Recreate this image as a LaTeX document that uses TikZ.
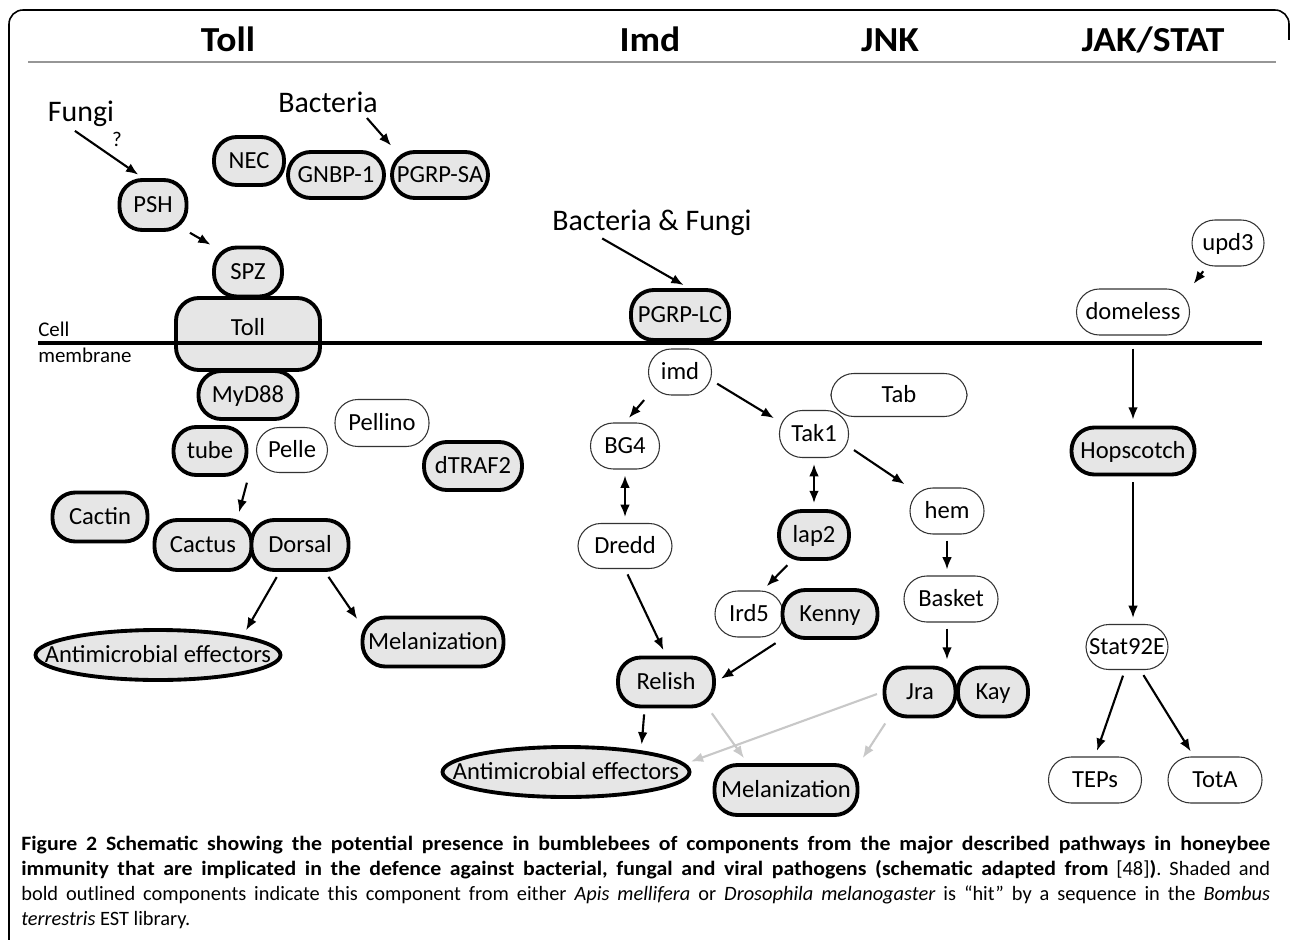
\documentclass[tikz,border=0pt]{standalone}
\usepackage{fontspec}
\setmainfont{Carlito}[BoldFeatures={FakeStretch=1.07}]
\usetikzlibrary{arrows.meta,shapes.geometric}
\definecolor{hitgray}{RGB}{230,230,230}
\definecolor{rulegray}{RGB}{150,150,150}
\definecolor{weakgray}{RGB}{200,200,200}
\newcommand{\lblfont}{\fontsize{14}{15}\selectfont}
\newcommand{\srcfont}{\fontsize{17}{19}\selectfont}
\newcommand{\hdrfont}{\fontsize{20}{22}\selectfont\bfseries}
\newcommand{\cellfont}{\fontsize{11.9}{13}\selectfont}
\newcommand{\capfont}{\fontsize{11.6}{14.2}\selectfont\frenchspacing}

\begin{document}
\begin{tikzpicture}[x=0.02cm,y=-0.02cm]
\tikzset{hitnode/.style={draw=black, line width=2.2pt, fill=hitgray, rounded corners=13pt, inner sep=0pt, font=\lblfont, text height=9pt, text depth=0pt},
plainnode/.style={draw=black!80, line width=0.6pt, fill=white, rounded corners=13pt, inner sep=0pt, font=\lblfont, text height=9pt, text depth=0pt},
hitoval/.style={ellipse, draw=black, line width=2.2pt, fill=hitgray, inner sep=0pt, font=\lblfont, text height=9pt, text depth=0pt},
sz/.style 2 args={minimum width=#1*0.02cm, minimum height=#2*0.02cm},
srctext/.style={inner sep=0pt, font=\srcfont},
hdr/.style={inner sep=0pt, font=\hdrfont},
arr/.style={-{Latex[length=7pt,width=5.5pt]}, line width=1.2pt, shorten >=3.4pt, shorten <=3.4pt},
dbl/.style={{Latex[length=7pt,width=5.5pt]}-{Latex[length=7pt,width=5.5pt]}, line width=1.2pt, shorten >=3.4pt, shorten <=3.4pt},
weak/.style={arr, draw=weakgray}}
\useasboundingbox (0,0) rectangle (1290,939);
\draw[line width=0.9pt, rounded corners=8pt] (9,950) -- (9,10) -- (1289,10) -- (1289,40);
\node[hdr, anchor=base] (hToll) at (228,52) {Toll};
\node[hdr, anchor=base] (hImd) at (650,52) {Imd};
\node[hdr, anchor=base] (hJNK) at (890,52) {JNK};
\node[hdr, anchor=base] (hJAK) at (1153,52) {JAK/STAT};
\draw[rulegray, line width=1.1pt] (28,62) -- (1276,62);

\node[srctext, anchor=base] (fungi) at (81,122) {Fungi};
\node[inner sep=0pt, font=\cellfont, anchor=base] (qmark) at (117,147) {?};
\node[srctext, anchor=base] (bact) at (328,113) {Bacteria};
\node[hitnode, sz={70}{48}] (nec) at (249,161) {NEC};
\node[hitnode, sz={96}{46}] (gnbp) at (336,175) {GNBP-1};
\node[hitnode, sz={96}{46}] (pgrpsa) at (440,175) {PGRP-SA};
\node[hitnode, sz={67}{50}] (psh) at (153,205) {PSH};
\node[hitnode, sz={68}{49}] (spz) at (248,272) {SPZ};
\node[hitnode, sz={144}{72}, text depth=7pt] (toll) at (248,334) {Toll};
\node[hitnode, sz={99}{48}] (myd) at (248,395) {MyD88};
\node[hitnode, sz={73}{48}] (tube) at (210,451) {tube};
\node[plainnode, sz={71}{45}] (pelle) at (292,450) {Pelle};
\node[plainnode, sz={94}{47}] (pellino) at (382,423) {Pellino};
\node[hitnode, sz={98}{48}] (dtraf) at (473,466) {dTRAF2};
\node[hitnode, sz={95}{49}] (cactin) at (100,517) {Cactin};
\node[hitnode, sz={97}{50}] (cactus) at (203,545) {Cactus};
\node[hitnode, sz={97}{50}] (dorsal) at (300,545) {Dorsal};
\node[hitoval, sz={245}{50}] (amtoll) at (158,655) {\makebox[0pt]{Antimicrobial effectors}};
\node[hitnode, sz={141}{49}] (meltoll) at (433,642) {Melanization};

\node[srctext, anchor=base] (bf) at (652,230) {Bacteria \& Fungi};
\node[hitnode, sz={98}{50}] (pgrplc) at (680,315) {PGRP-LC};
\node[plainnode, sz={63}{46}] (imd) at (680,372) {imd};
\node[plainnode, sz={69}{46}] (bg4) at (625,446) {BG4};
\node[plainnode, sz={136}{43}] (tab) at (899,395) {Tab};
\node[plainnode, sz={69}{47}] (tak1) at (814,434) {Tak1};
\node[plainnode, sz={94}{45}] (dredd) at (625,546) {Dredd};
\node[plainnode, sz={74}{46}] (hem) at (947,511) {hem};
\node[hitnode, sz={70}{48}] (lap2) at (814,535) {lap2};
\node[plainnode, sz={68}{46}] (ird5) at (749,614) {Ird5};
\node[hitnode, sz={95}{48}] (kenny) at (830,614) {Kenny};
\node[plainnode, sz={94}{46}] (basket) at (951,599) {Basket};
\node[hitnode, sz={71}{49}] (jra) at (920,692) {Jra};
\node[hitnode, sz={70}{49}] (kay) at (993,692) {Kay};
\node[hitnode, sz={96}{49}] (relish) at (666,682) {Relish};
\node[hitoval, sz={247}{50}] (amimd) at (566,772) {\makebox[0pt]{Antimicrobial effectors}};
\node[hitnode, sz={143}{50}] (melimd) at (786,790) {Melanization};

\node[plainnode, sz={72}{46}] (upd3) at (1228,243) {upd3};
\node[plainnode, sz={113}{46}] (domeless) at (1133,312) {domeless};
\node[hitnode, sz={123}{47}] (hopscotch) at (1133,451) {Hopscotch};
\node[plainnode, sz={82}{45}] (stat) at (1127,647) {Stat92E};
\node[plainnode, sz={93}{46}] (teps) at (1095,780) {TEPs};
\node[plainnode, sz={94}{46}] (tota) at (1215,780) {TotA};

\draw[line width=2.3pt] (38,343) -- (1262,343);
\node[inner sep=0pt, font=\cellfont, anchor=base west] (cell) at (38,336) {Cell};
\node[inner sep=0pt, font=\cellfont, anchor=base west] (membrane) at (38,362) {membrane};

\draw[arr] ([xshift=-0.22cm]fungi.south) -- (psh.110);
\draw[arr] ([xshift=-0.3cm]bact.south east) -- (pgrpsa.151);
\draw[arr, shorten <=1pt, shorten >=1pt] (psh.south east) -- (spz.north west);
\draw[arr] (tube.south east) -- (cactus.38);
\draw[arr] (dorsal.233) -- (amtoll.13);
\draw[arr] (dorsal.313) -- (meltoll.166);
\draw[arr] ([xshift=-1.1cm]bf.south) -- (pgrplc.72);
\draw[arr] (imd.south west) -- (bg4.north);
\draw[arr] (imd.-15) -- (tak1.160);
\draw[dbl] (bg4) -- (dredd);
\draw[dbl] (tak1) -- (lap2);
\draw[arr] (tak1.-20) -- (hem.north west);
\draw[arr] (lap2.229) -- (ird5.60);
\draw[arr] (hem.south) -- (hem.south |- basket.north);
\draw[arr] (hem.south |- basket.south) -- (hem.south |- jra.north);
\draw[arr] (dredd.south) -- (relish.north);
\draw[arr] (kenny.south west) -- (relish.east);
\draw[arr] (relish.231) -- (amimd.16);
\draw[weak] (relish.328) -- (melimd.145);
\draw[weak] (jra.west) -- (amimd.4);
\draw[weak] (jra.220) -- (melimd.north east);
\draw[arr] (upd3.228) -- (domeless.north east);
\draw[arr, shorten <=7.4pt] (domeless) -- (hopscotch);
\draw[arr] (hopscotch) -- (hopscotch |- stat.north);
\draw[arr] (stat.265) -- (teps.north);
\draw[arr] (stat.300) -- (tota.132);

\node[anchor=north west, text width=24.98cm, align=justify, inner sep=0pt, font=\capfont] (caption) at (21,836) {{\bfseries Figure 2 Schematic showing the potential presence in bumblebees of components from the major described pathways in honeybee\linebreak immunity that are implicated in the defence against bacterial, fungal and viral pathogens (schematic adapted from} [48]{\bfseries )}. Shaded and\linebreak bold outlined components indicate this component from either \textit{Apis mellifera} or \textit{Drosophila melanogaster} is “hit” by a sequence in the \textit{Bombus}\linebreak \textit{terrestris} EST library.};
\end{tikzpicture}
\end{document}
